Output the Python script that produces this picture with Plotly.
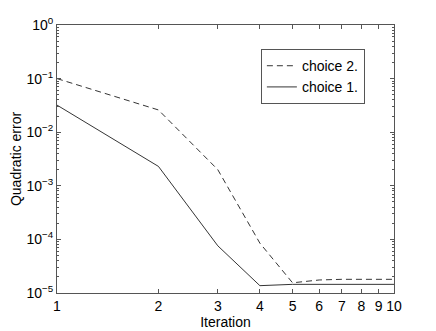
import plotly.graph_objects as go

# iteration numbers and errors
iterations = [1, 2, 3, 4, 5, 6, 7, 8, 9, 10]
choice_2 = [0.1, 0.026, 0.002, 8.5e-5, 1.55e-5, 1.75e-5, 1.8e-5, 1.8e-5, 1.8e-5, 1.8e-5]
choice_1 = [0.032, 0.0023, 7.6e-5, 1.37e-5, 1.45e-5, 1.45e-5, 1.45e-5, 1.45e-5, 1.45e-5, 1.45e-5]

y_tickvals = [1e-5, 1e-4, 1e-3, 1e-2, 1e-1, 1e0]
y_ticktext = ['10<sup>−5</sup>', '10<sup>−4</sup>', '10<sup>−3</sup>',
              '10<sup>−2</sup>', '10<sup>−1</sup>', '10<sup>0</sup>']
x_ticktext = [str(i) for i in iterations]

fig = go.Figure()

fig.add_trace(go.Scatter(
    x = iterations,
    y = choice_2,
    name = 'choice 2.',
    mode = 'lines',
    line = dict(color = 'black', width = 0.8, dash = '6px,4px'),
))
fig.add_trace(go.Scatter(
    x = iterations,
    y = choice_1,
    name = 'choice 1.',
    mode = 'lines',
    line = dict(color = 'black', width = 0.8),
))

axis_style = dict(
    showline = True, linecolor = '#555555', linewidth = 1, mirror = 'ticks',
    ticks = 'inside', ticklen = 4, tickcolor = '#555555',
    showgrid = False, zeroline = False, automargin = False,
    tickfont = dict(size = 14),
)

fig.update_xaxes(
    type = 'log', range = [0, 1],
    tickvals = iterations, ticktext = x_ticktext,
    title = dict(text = 'Iteration', standoff = 0, font = dict(size = 14)),
    **axis_style,
)
fig.update_yaxes(
    type = 'log', range = [-5, 0],
    tickvals = y_tickvals, ticktext = y_ticktext,
    title = dict(text = 'Quadratic error', standoff = 4, font = dict(size = 14)),
    minor = dict(ticks = 'inside', ticklen = 2, tickcolor = '#555555', dtick = 'D1', showgrid = False),
    **axis_style,
)

# the page body adds an 8px offset, so margins are shifted to land the frame where the reference has it
fig.update_layout(
    template = 'simple_white',
    width = 436, height = 331,
    margin = dict(l = 49, r = 50, t = 17, b = 46),
    font = dict(family = 'Liberation Sans, Arial', size = 14, color = 'black'),
    plot_bgcolor = 'white', paper_bgcolor = 'white',
    showlegend = True,
    legend = dict(
        x = 0.605, y = 0.91, xanchor = 'left', yanchor = 'top',
        bordercolor = '#555555', borderwidth = 1, bgcolor = 'white',
        font = dict(size = 14), itemwidth = 30, tracegroupgap = 0,
    ),
)

fig.write_html('out.html')
